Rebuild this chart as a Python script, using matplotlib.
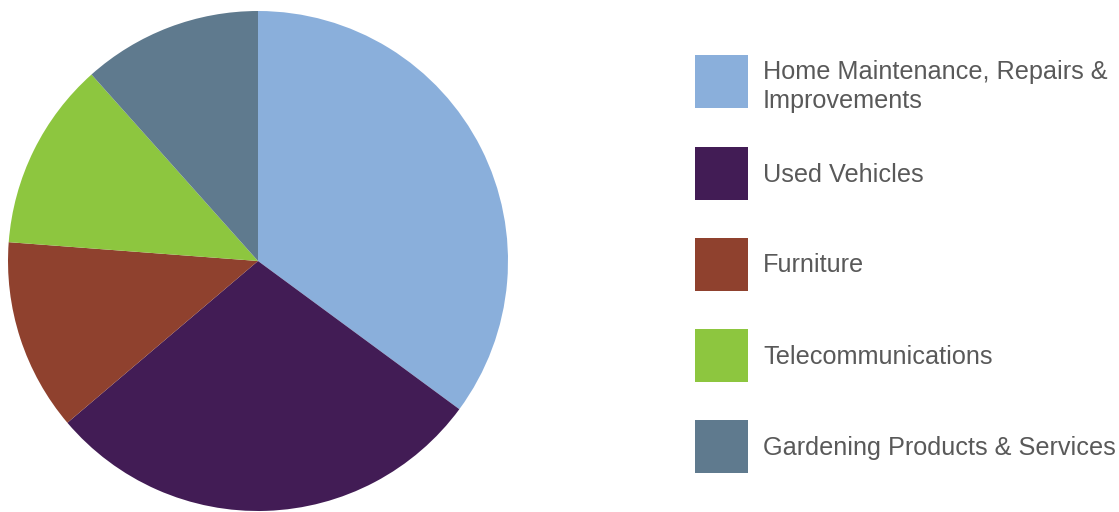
import matplotlib
matplotlib.use("Agg")
import matplotlib.pyplot as plt
from matplotlib.patches import Rectangle

# shares (percent)
categories = [
    "Home Maintenance, Repairs &\nImprovements",
    "Used Vehicles",
    "Furniture",
    "Telecommunications",
    "Gardening Products & Services",
]
shares = [35.1, 28.7, 12.4, 12.2, 11.6]
colors = ["#8AAFDB", "#421C55", "#8F412E", "#8DC63F", "#5F7A8E"]

plt.rcParams['font.family'] = ['Liberation Sans', 'DejaVu Sans']

W, H = 1119, 512
fig = plt.figure(figsize=(W / 100, H / 100), dpi=100)

# pie: centre ~(258, 261) px, radius ~250 px
ax = fig.add_axes([8 / W, 1 / H, 500 / W, 500 / H])
ax.pie(shares, colors=colors, startangle=90, counterclock=False,
       radius=1, wedgeprops=dict(linewidth=0))
ax.set_xlim(-1, 1)
ax.set_ylim(-1, 1)
ax.set_aspect('equal')
ax.axis('off')

# legend drawn in pixel coordinates
lax = fig.add_axes([0, 0, 1, 1])
lax.set_xlim(0, W)
lax.set_ylim(H, 0)
lax.axis('off')
row_y = [81.5, 173.5, 264.5, 355.5, 446.5]
for i, (label, c) in enumerate(zip(categories, colors)):
    y = row_y[i]
    lax.add_patch(Rectangle((695, y - 26.5), 53, 53, color=c, lw=0))
    ty = y + 5 if "\n" in label else y + 1
    lax.text(763, ty, label, fontsize=18.2, color="#595959", va='center',
             ha='left', linespacing=1.27)

fig.savefig("out.png", dpi=100)
